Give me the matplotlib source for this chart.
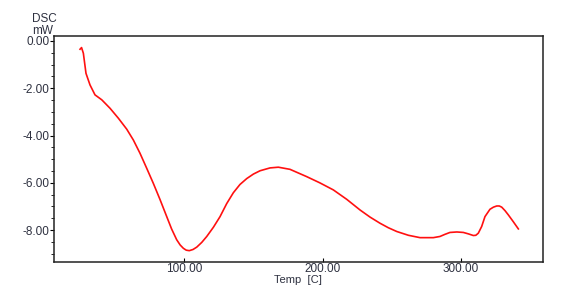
import matplotlib
matplotlib.use("Agg")
import matplotlib.pyplot as plt
from matplotlib.ticker import MultipleLocator, FormatStrFormatter

temp = [24.9, 26.0, 27.3, 29.2, 32.1, 35.7, 40.6, 46.6, 52.6, 58.6, 63.4, 68.2, 73.0,
        77.8, 82.6, 87.5, 91.0, 94.7, 97.2, 99.5, 101.6, 103.8, 106.5, 109.2, 112.8,
        116.4, 121.2, 126.0, 130.8, 135.6, 140.4, 145.3, 150.1, 154.9, 162.1, 168.1,
        176.5, 188.6, 198.0, 207.8, 217.5, 227.1, 234.3, 241.5, 247.5, 253.6, 262.0,
        270.4, 280.0, 284.8, 288.4, 292.0, 297.0, 301.7, 305.3, 308.9, 310.7, 312.5,
        314.9, 317.3, 320.9, 323.4, 325.8, 327.6, 329.4, 331.8, 334.2, 337.8, 341.4]
dsc = [-0.35, -0.28, -0.52, -1.37, -1.86, -2.28, -2.49, -2.85, -3.27, -3.73, -4.19,
       -4.75, -5.38, -6.02, -6.70, -7.43, -7.95, -8.41, -8.63, -8.77, -8.85, -8.87,
       -8.82, -8.72, -8.52, -8.27, -7.88, -7.43, -6.88, -6.42, -6.07, -5.82, -5.63,
       -5.49, -5.37, -5.34, -5.43, -5.74, -6.00, -6.30, -6.70, -7.15, -7.45, -7.71,
       -7.90, -8.06, -8.22, -8.32, -8.32, -8.27, -8.18, -8.10, -8.08, -8.10, -8.16,
       -8.23, -8.22, -8.13, -7.85, -7.43, -7.12, -7.03, -6.98, -6.98, -7.03, -7.18,
       -7.36, -7.65, -7.95]

xticks = [100, 200, 300]
yticks = [0, -2, -4, -6, -8]
txt = "#2e3140"

plt.rcParams['font.family'] = ['Liberation Sans', 'DejaVu Sans']
fig = plt.figure(figsize=(5.86, 2.89), dpi=100)
ax = fig.add_axes([54/586, 1-262/289, (543-54)/586, (262-36)/289])
ax.plot(temp, dsc, color='#ff1010', lw=1.2)
ax.set_xlim(6.1, 359.2)
ax.set_ylim(-9.35, 0.21)
ax.set_xticks(xticks)
ax.set_yticks(yticks)
ax.xaxis.set_major_formatter(FormatStrFormatter('%.2f'))
ax.yaxis.set_major_formatter(FormatStrFormatter('%.2f'))
ax.yaxis.set_minor_locator(MultipleLocator(0.5))
ax.tick_params(axis='y', which='major', direction='out', length=3, labelsize=8.5,
               labelcolor=txt, pad=0.5, width=0.8)
ax.tick_params(axis='y', which='minor', direction='out', length=2, width=0.6)
ax.tick_params(axis='x', which='major', direction='in', length=3, labelsize=8.5,
               labelcolor=txt, pad=1, width=0.8)
for s in ax.spines.values():
    s.set_linewidth(1.1)
    s.set_color('#222222')
fig.text(44.5/586, 1-19.5/289, 'DSC', ha='center', va='center', fontsize=8.5, color=txt)
fig.text(43/586, 1-30.5/289, 'mW', ha='center', va='center', fontsize=8.5, color=txt)
fig.text(298/586, 1-280/289, 'Temp  [C]', ha='center', va='center', fontsize=8, color=txt)
fig.savefig('out.png', dpi=100)
